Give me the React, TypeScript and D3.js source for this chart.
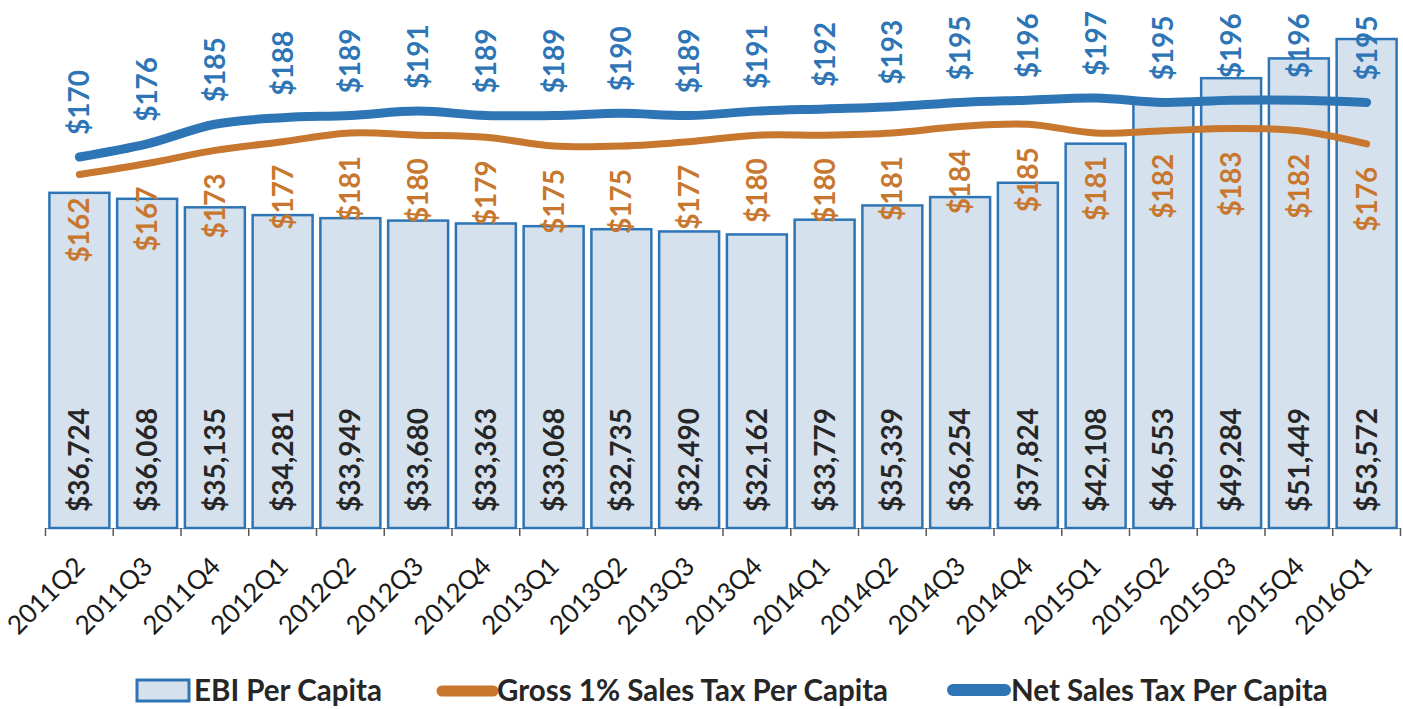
import React, { useEffect, useRef } from 'react'
import * as d3 from 'd3'

const quarters = ['2011Q2', '2011Q3', '2011Q4', '2012Q1', '2012Q2', '2012Q3', '2012Q4', '2013Q1', '2013Q2', '2013Q3',
  '2013Q4', '2014Q1', '2014Q2', '2014Q3', '2014Q4', '2015Q1', '2015Q2', '2015Q3', '2015Q4', '2016Q1']
const ebiPerCapita = [36724, 36068, 35135, 34281, 33949, 33680, 33363, 33068, 32735, 32490,
  32162, 33779, 35339, 36254, 37824, 42108, 46553, 49284, 51449, 53572]
const grossSalesTax = [162, 167, 173, 177, 181, 180, 179, 175, 175, 177,
  180, 180, 181, 184, 185, 181, 182, 183, 182, 176]
const netSalesTax = [170, 176, 185, 188, 189, 191, 189, 189, 190, 189,
  191, 192, 193, 195, 196, 197, 195, 196, 196, 195]
const legendLabels = ['EBI Per Capita', 'Gross 1% Sales Tax Per Capita', 'Net Sales Tax Per Capita']

const BLUE = '#2E75B6'
const ORANGE = '#C8772F'
const BAR_FILL = '#D6E1EE'
const TEXT = '#262626'
const FONT = 'Lato, "Open Sans", sans-serif'

const ComboChart = () => {
  const chartRef = useRef(null)

  useEffect(() => {
    const width = 1403
    const height = 709
    const left = 45.5
    const right = 1400.5
    const top = 26
    const bottom = 528

    d3.select(chartRef.current).selectAll('*').remove()
    const svg = d3.select(chartRef.current)
      .attr('width', width)
      .attr('height', height)
      .style('font-family', FONT)

    const x = d3.scaleBand().domain(quarters).range([left, right]).padding(0)
    const barW = x.bandwidth() * 0.885
    const cx = (q) => x(q) + x.bandwidth() / 2

    const yBar = d3.scaleLinear().domain([0, 55000]).range([bottom, top])
    const yLine = d3.scaleLinear().domain([0, 230]).range([bottom, top])

    // axis line + ticks at category boundaries
    const axis = svg.append('g').attr('transform', `translate(0, ${bottom})`)
      .call(d3.axisBottom(x).tickSize(0).tickFormat(() => ''))
    axis.select('.domain').attr('stroke', '#8c8c8c').attr('stroke-width', 1)
    svg.append('g').selectAll('line')
      .data(d3.range(quarters.length + 1))
      .enter()
      .append('line')
      .attr('x1', i => left + i * x.step())
      .attr('x2', i => left + i * x.step())
      .attr('y1', bottom)
      .attr('y2', bottom + 8)
      .attr('stroke', '#595959')
      .attr('stroke-width', 1.5)

    // bars
    svg.append('g').selectAll('rect')
      .data(ebiPerCapita)
      .enter()
      .append('rect')
      .attr('x', (d, i) => cx(quarters[i]) - barW / 2)
      .attr('y', d => yBar(d))
      .attr('width', barW)
      .attr('height', d => bottom - yBar(d))
      .attr('fill', BAR_FILL)
      .attr('stroke', BLUE)
      .attr('stroke-width', 2.5)

    // bar labels (inside base)
    svg.append('g').selectAll('text')
      .data(ebiPerCapita)
      .enter()
      .append('text')
      .attr('transform', (d, i) => `translate(${cx(quarters[i]) + 10}, ${bottom - 16}) rotate(-90)`)
      .attr('text-anchor', 'start')
      .style('font-size', '28px')
      .style('font-weight', 700)
      .style('fill', TEXT)
      .text(d => '$' + d3.format(',')(d))

    // lines
    const line = d3.line()
      .x((d, i) => cx(quarters[i]))
      .y(d => yLine(d))
      .curve(d3.curveCatmullRom)

    svg.append('path')
      .datum(grossSalesTax)
      .attr('d', line)
      .attr('fill', 'none')
      .attr('stroke', ORANGE)
      .attr('stroke-width', 7)
      .attr('stroke-linecap', 'round')

    svg.append('path')
      .datum(netSalesTax)
      .attr('d', line)
      .attr('fill', 'none')
      .attr('stroke', BLUE)
      .attr('stroke-width', 9)
      .attr('stroke-linecap', 'round')

    // line labels
    svg.append('g').selectAll('text')
      .data(netSalesTax)
      .enter()
      .append('text')
      .attr('transform', (d, i) => `translate(${cx(quarters[i]) + 10}, ${yLine(d) - 22}) rotate(-90)`)
      .attr('text-anchor', 'start')
      .style('font-size', '28px')
      .style('font-weight', 700)
      .style('fill', BLUE)
      .text(d => '$' + d)

    svg.append('g').selectAll('text')
      .data(grossSalesTax)
      .enter()
      .append('text')
      .attr('transform', (d, i) => `translate(${cx(quarters[i]) + 10}, ${yLine(d) + 23}) rotate(-90)`)
      .attr('text-anchor', 'end')
      .style('font-size', '28px')
      .style('font-weight', 700)
      .style('fill', ORANGE)
      .text(d => '$' + d)

    // category labels
    svg.append('g').selectAll('text')
      .data(quarters)
      .enter()
      .append('text')
      .attr('transform', q => `translate(${cx(q) + 7}, ${bottom + 40}) rotate(-45)`)
      .attr('text-anchor', 'end')
      .style('font-size', '26px')
      .style('fill', '#1a1a1a')
      .text(q => q)

    // legend
    const legend = svg.append('g')
    legend.append('rect')
      .attr('x', 137).attr('y', 680).attr('width', 52).attr('height', 21)
      .attr('fill', BAR_FILL).attr('stroke', BLUE).attr('stroke-width', 3)
    legend.append('line')
      .attr('x1', 442).attr('x2', 493).attr('y1', 691).attr('y2', 691)
      .attr('stroke', ORANGE).attr('stroke-width', 11).attr('stroke-linecap', 'round')
    legend.append('line')
      .attr('x1', 953).attr('x2', 1005).attr('y1', 690).attr('y2', 690)
      .attr('stroke', BLUE).attr('stroke-width', 12).attr('stroke-linecap', 'round')
    const legendX = [194, 497, 1011]
    legend.selectAll('text')
      .data(legendLabels)
      .enter()
      .append('text')
      .attr('x', (d, i) => legendX[i])
      .attr('y', 701)
      .style('font-size', '29.5px')
      .style('font-weight', 700)
      .style('fill', TEXT)
      .text(d => d)
  }, [])

  return <svg ref={chartRef} style={{ display: 'block' }}></svg>
}

export default function App() {
  useEffect(() => {
    document.body.style.margin = '0'
  }, [])
  return <ComboChart />
}
